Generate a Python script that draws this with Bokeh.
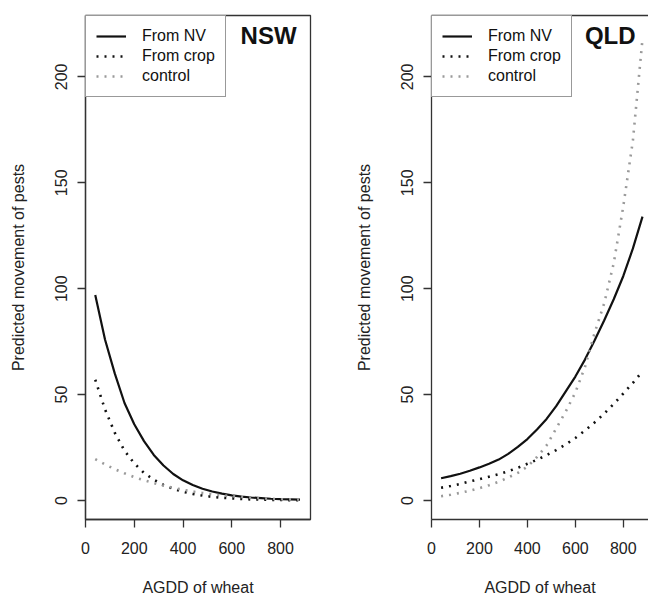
from bokeh.plotting import figure
from bokeh.layouts import row
from bokeh.models import Range1d, Label, LinearAxis, FixedTicker, Legend
from bokeh.embed import file_html
from bokeh.resources import INLINE

# ---- data ----
agdd = [40, 80, 120, 160, 200, 240, 280, 320, 360, 400, 440,
        480, 520, 560, 600, 640, 680, 720, 760, 800, 840, 880]

nsw_nv = [97, 76, 60, 46, 36, 28, 21.5, 16.5, 12.5, 9.5, 7.3,
          5.5, 4.2, 3.2, 2.4, 1.8, 1.4, 1.1, 0.8, 0.6, 0.5, 0.4]
nsw_crop = [57, 43, 32, 23.5, 17.5, 13, 9.8, 7.3, 5.5, 4.1, 3.1,
            2.3, 1.7, 1.3, 1.0, 0.7, 0.5, 0.4, 0.3, 0.2, 0.15, 0.1]
nsw_control = [19.5, 17, 14.8, 12.8, 11, 9.5, 8.2, 7, 6, 5, 4.2,
               3.5, 2.9, 2.4, 2.0, 1.6, 1.3, 1.0, 0.8, 0.6, 0.5, 0.4]

qld_nv = [10.5, 11.5, 12.6, 14, 15.6, 17.3, 19.3, 22, 25.3, 29, 33.5,
          38.5, 44.5, 51.5, 58.5, 66.5, 75.5, 85, 95, 106, 119, 134]
qld_crop = [6, 6.8, 7.8, 9, 10, 11.2, 12.4, 13.8, 15.4, 17.3, 19.2,
            21.4, 23.8, 26.5, 29.5, 33, 36.8, 41, 45.6, 50.5, 55.5, 61]
qld_control = [2, 2.7, 3.6, 4.6, 5.8, 7.2, 8.8, 10.8, 13, 16, 20.5,
               26, 34, 42, 51, 63, 79, 93, 112, 139, 170, 218]

x_ticks = [0, 200, 400, 600, 800]
y_ticks = [0, 50, 100, 150, 200]
series_names = ["From NV", "From crop", "control"]
panel_titles = ["NSW", "QLD"]

FONT = "Liberation Sans"
FRAME = "#333333"


def make_panel(title, nv, crop, control, width, x_end, mb_left, mb_right, title_x, show_outline):
    p = figure(width=width, height=598, output_backend="svg", toolbar_location=None,
               x_range=Range1d(0, x_end), y_range=Range1d(-9, 229),
               min_border_left=mb_left, min_border_right=mb_right,
               min_border_top=15, min_border_bottom=78)
    p.background_fill_color = "white"
    p.border_fill_color = "white"
    p.xgrid.visible = False
    p.ygrid.visible = False

    xax = p.below[0]
    yax = p.left[0]

    r1 = p.line(agdd, nv, line_color="#111111", line_width=2.2)
    r2 = p.line(agdd, crop, line_color="#111111", line_width=2.6, line_dash="2 6")
    r3 = p.line(agdd, control, line_color="#9a9a9a", line_width=2.6, line_dash="2 6")

    legend = Legend(items=[(series_names[0], [r1]), (series_names[1], [r2]), (series_names[2], [r3])],
                    location="top_left")
    legend.margin = 0
    legend.padding = 10
    legend.spacing = 0
    legend.glyph_width = 30
    legend.glyph_height = 20
    legend.label_height = 20
    legend.label_standoff = 16
    legend.label_text_font = FONT
    legend.label_text_font_size = "16px"
    legend.label_text_color = "#111111"
    legend.border_line_color = FRAME
    legend.border_line_width = 1.3
    legend.background_fill_color = "white"
    legend.background_fill_alpha = 1.0
    p.add_layout(legend)

    p.add_layout(Label(x=title_x, y=219.5, text=title, text_font=FONT, text_font_size="24px",
                       text_font_style="bold", text_align="right", text_baseline="alphabetic",
                       text_color="#111111"))

    for ax in (xax, yax):
        ax.axis_line_color = FRAME
        ax.axis_line_width = 1.3
        ax.major_tick_line_color = FRAME
        ax.major_tick_line_width = 1.3
        ax.major_tick_out = 8
        ax.major_tick_in = 0
        ax.minor_tick_out = 0
        ax.minor_tick_in = 0
        ax.major_label_text_font = FONT
        ax.major_label_text_font_size = "16px"
        ax.major_label_text_color = "#222222"
        ax.axis_label_text_font = FONT
        ax.axis_label_text_font_size = "16px"
        ax.axis_label_text_font_style = "normal"
        ax.axis_label_text_color = "#222222"
    xax.ticker = FixedTicker(ticks=x_ticks)
    yax.ticker = FixedTicker(ticks=y_ticks)
    xax.axis_label = "AGDD of wheat"
    yax.axis_label = "Predicted movement of pests"
    yax.major_label_orientation = "vertical"
    xax.major_label_standoff = 14
    yax.major_label_standoff = 10
    xax.axis_label_standoff = 22
    yax.axis_label_standoff = 26

    if show_outline:
        p.outline_line_color = FRAME
        p.outline_line_width = 1.3
    else:
        p.outline_line_color = None
        top = LinearAxis(ticker=FixedTicker(ticks=[]))
        top.axis_line_color = FRAME
        top.axis_line_width = 1.3
        top.major_tick_out = 0
        top.major_tick_in = 0
        top.minor_tick_out = 0
        top.minor_tick_in = 0
        top.major_label_standoff = 0
        top.major_label_text_font_size = "0px"
        p.add_layout(top, "above")
    return p


left = make_panel(panel_titles[0], nsw_nv, nsw_crop, nsw_control, 352, 923, 85, 42, 866, True)
right = make_panel(panel_titles[1], qld_nv, qld_crop, qld_control, 296, 905, 77, 0, 851, False)

layout = row(left, right)
open("out.html", "w").write(file_html(layout, INLINE))
